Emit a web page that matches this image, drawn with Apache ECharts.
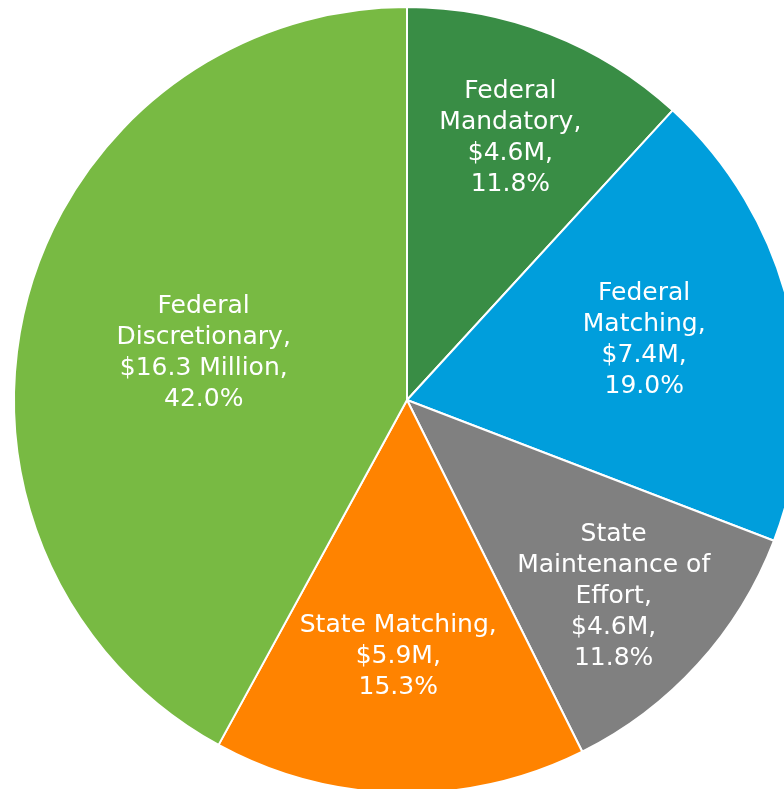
<!DOCTYPE html>
<html>
<head>
<meta charset="utf-8">
<script src="https://cdn.jsdelivr.net/npm/echarts@6/dist/echarts.min.js"></script>
<style>html,body{margin:0;padding:0;background:#fff;}#c{width:784px;height:789px;}</style>
</head>
<body>
<div id="c"></div>
<script>
const categories = ['Federal\nMandatory', 'Federal\nMatching', 'State\nMaintenance of\nEffort', 'State Matching', 'Federal\nDiscretionary'];
const amounts = ['$4.6M', '$7.4M', '$4.6M', '$5.9M', '$16.3 Million'];
const shares = [11.8, 19.0, 11.8, 15.3, 42.0];

const colors = ['#398D45', '#009EDC', '#808080', '#FF8300', '#78BA43'];
const offsets = [[31, -76], [43, -14], [59, 62], [-5, 57], [-10, 2]];

const chart = echarts.init(document.getElementById('c'), null, {renderer: 'canvas'});
chart.setOption({
  animation: false,
  backgroundColor: '#fff',
  series: [{
    type: 'pie',
    center: [407, 400],
    radius: 393,
    startAngle: 90,
    clockwise: true,
    avoidLabelOverlap: false,
    itemStyle: {borderColor: '#fff', borderWidth: 2},
    label: {
      show: true,
      position: 'inside',
      color: '#fff',
      fontFamily: 'DejaVu Sans',
      fontSize: 25,
      lineHeight: 31,
      align: 'center',
      formatter: p => categories[p.dataIndex] + ',\n' + amounts[p.dataIndex] + ',\n' + shares[p.dataIndex].toFixed(1) + '%'
    },
    labelLine: {show: false},
    emphasis: {disabled: true},
    data: shares.map((v, i) => ({
      value: v,
      name: categories[i],
      itemStyle: {color: colors[i]},
      label: {offset: offsets[i]}
    }))
  }]
});
</script>
</body>
</html>
